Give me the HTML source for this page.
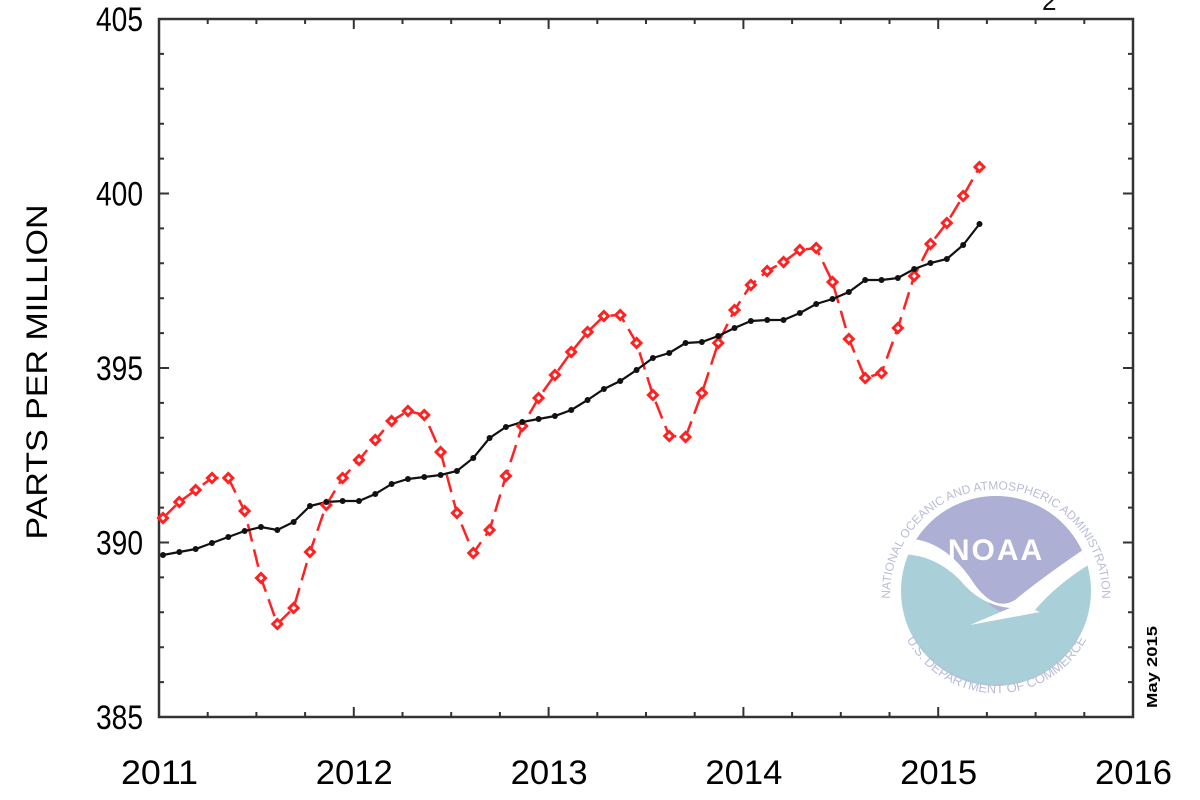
<!DOCTYPE html>
<html><head><meta charset="utf-8"><style>
html,body{margin:0;padding:0;background:#fff;width:1200px;height:800px;overflow:hidden}
svg{display:block;font-family:"Liberation Sans",Arial,sans-serif}
</style></head><body>
<svg id="s" width="1200" height="800" viewBox="0 0 1200 800" xmlns="http://www.w3.org/2000/svg">
<text x="640" y="-3" font-size="32" text-anchor="middle" fill="#111">RECENT GLOBAL MONTHLY MEAN CO</text>
<text x="1042" y="10" font-size="26" fill="#111">2</text>
<g id="logo">
<defs><clipPath id="cc"><circle cx="996" cy="591" r="95"/></clipPath>
<path id="ring" d="M 891 610 A 106 106 0 1 1 1101 610"/>
<path id="ring2" d="M 903 632 A 102 102 0 0 0 1090 632"/></defs>
<g clip-path="url(#cc)">
<rect x="890" y="490" width="215" height="210" fill="#a9cfd9"/>
<path d="M 890 490 L 1105 490 L 1105 545 Q 1070 570 1040 600 Q 1015 625 990 605 Q 955 560 915 545 L 890 545 Z" fill="#adafd4"/>
<path d="M 890 540 Q 940 530 975 585 Q 995 612 1015 600 Q 1045 575 1105 535 L 1105 555 Q 1060 580 1035 610 L 1040 612 L 970 625 L 1010 608 Q 980 605 960 580 Q 930 550 890 555 Z" fill="#fff"/>
</g>
<text x="996" y="560" font-size="30" font-weight="bold" fill="#fff" text-anchor="middle" letter-spacing="2">NOAA</text>
<text font-size="12" fill="#b9bcd9"><textPath href="#ring" startOffset="50%" text-anchor="middle">NATIONAL OCEANIC AND ATMOSPHERIC ADMINISTRATION</textPath></text>
<text font-size="13" fill="#b9bcd9"><textPath href="#ring2" startOffset="50%" text-anchor="middle">U.S. DEPARTMENT OF COMMERCE</textPath></text>
</g>
<text transform="translate(1157,708) rotate(-90)" font-size="15" font-weight="bold" fill="#000" textLength="82" lengthAdjust="spacingAndGlyphs">May 2015</text>
<text transform="translate(47,372) rotate(-90)" font-size="30" text-anchor="middle" fill="#000" textLength="335" lengthAdjust="spacingAndGlyphs">PARTS PER MILLION</text>
<g id="axes" stroke="#333" stroke-width="2.5" fill="none"></g>
<g id="lbl" font-size="34" fill="#000"></g>
<g id="data"></g>
</svg>
<script>
var NS="http://www.w3.org/2000/svg";
function el(p,t,a,txt){var e=document.createElementNS(NS,t);for(var k in a)e.setAttribute(k,a[k]);if(txt!==undefined)e.textContent=txt;p.appendChild(e);return e;}
var L=159,R=1133,T=19,B=717;
var ax=document.getElementById('axes'),lb=document.getElementById('lbl'),dg=document.getElementById('data');
el(ax,'rect',{x:L,y:T,width:R-L,height:B-T});
var d="";
for(var i=0;i<=20;i++){var x=L+i*(R-L)/20;var len=(i%4==0)?10:5;d+="M"+x+" "+B+"v-"+len+"M"+x+" "+T+"v"+len;}
for(var v=385;v<=405;v++){var y=B-(v-385)*(B-T)/20;var len=(v%5==0)?10:5;d+="M"+L+" "+y+"h"+len+"M"+R+" "+y+"h-"+len;}
el(ax,'path',{d:d,'stroke-width':2});
for(var i=0;i<=5;i++){el(lb,'text',{x:L+i*(R-L)/5-38,y:784,textLength:77,lengthAdjust:'spacingAndGlyphs'},String(2011+i));}
for(var i=0;i<=4;i++){var v=385+5*i;el(lb,'text',{x:96,y:B-i*5*(B-T)/20+12,textLength:47,lengthAdjust:'spacingAndGlyphs'},String(v));}
var red=[518,502,490,478,478,511,578,624,608,552,505,478,460,440,421,411,415,452,513,553,530,476,426,398,375,352,332,316,315,343,395,436,437,393,343,310,285,271,262,250,248,282,339,378,373,328,276,244,223,196,167];
var blk=[555,552,549,543,537,531,527,530,522,506,502,501,501,494,484,479,477,475,471,458,438,427,422,419,416,410,400,389,381,370,358,353,343,342,336,328,321,320,320,313,304,299,292,280,280,278,269,263,259,245,224];
function X(m){return 163+m*16.33;}
var pb="",pr="";
for(var m=0;m<blk.length;m++){pb+=(m?"L":"M")+X(m).toFixed(1)+" "+blk[m];pr+=(m?"L":"M")+X(m).toFixed(1)+" "+red[m];}
el(dg,'path',{d:pr,stroke:'#f22',fill:'none','stroke-width':2.5,'stroke-dasharray':'18 8'});
el(dg,'path',{d:pb,stroke:'#111',fill:'none','stroke-width':2.2});
for(var m=0;m<blk.length;m++){
 var x=X(m),y=red[m];
 el(dg,'path',{d:"M"+x+" "+(y-4.5)+"L"+(x+4.5)+" "+y+"L"+x+" "+(y+4.5)+"L"+(x-4.5)+" "+y+"Z",fill:'#fff',stroke:'#f22','stroke-width':3});
 el(dg,'circle',{cx:x,cy:blk[m],r:3,fill:'#111'});
}
</script>
</body></html>
